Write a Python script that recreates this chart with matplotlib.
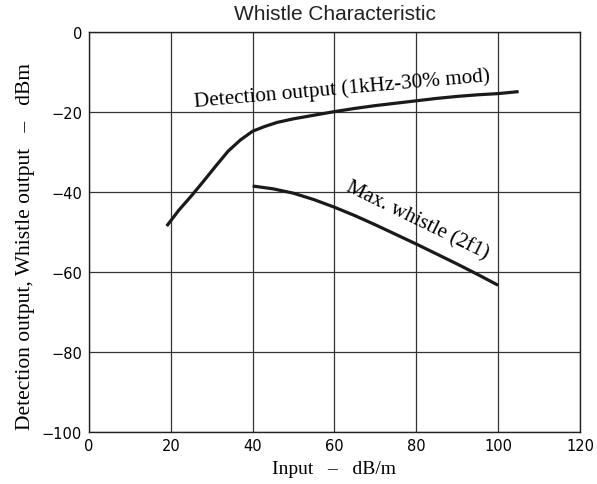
import matplotlib.pyplot as plt

# curves
det_x = [19, 22, 25, 28, 31, 34, 37, 40, 43, 46, 50, 55, 60, 65, 70, 75, 80, 85, 90, 95, 100, 105]
det_y = [-48.5, -44.5, -41, -37.3, -33.5, -29.8, -27, -24.8, -23.6, -22.6, -21.7, -20.8, -19.9, -19.1, -18.4, -17.8, -17.2, -16.6, -16.1, -15.7, -15.4, -14.9]

wh_x = [40, 45, 50, 55, 60, 65, 70, 75, 80, 85, 90, 95, 100]
wh_y = [-38.5, -39.2, -40.3, -41.9, -43.8, -45.9, -48.2, -50.6, -53.0, -55.5, -58.0, -60.6, -63.3]

xticks = [0, 20, 40, 60, 80, 100, 120]
yticks = [0, -20, -40, -60, -80, -100]

fig = plt.figure(figsize=(5.97, 4.85), dpi=100)
ax = fig.add_axes([0.149, 0.107, 0.8225, 0.825])

ax.plot(det_x, det_y, color="#1a1a1a", lw=2.3, solid_capstyle="butt")
ax.plot(wh_x, wh_y, color="#1a1a1a", lw=2.3, solid_capstyle="butt")

ax.set_xlim(0, 120)
ax.set_ylim(-100, 0)
ax.set_xticks(xticks)
ax.set_yticks(yticks)
ax.grid(True, color="#333333", lw=0.9)
ax.tick_params(length=0, labelsize=10.5, pad=4)
ax.tick_params(axis="y", pad=5)
for s in ax.spines.values():
    s.set_color("#222222")
    s.set_linewidth(1.0)

ax.set_title("Whistle Characteristic", fontsize=15, family="Liberation Sans", pad=9,
             color="#222222")
ax.set_xlabel("Input   \u2013   dB/m", fontsize=14, family="Liberation Serif")
ax.set_ylabel("Detection output, Whistle output   \u2013   dBm", fontsize=15.5, family="Liberation Serif")
ax.xaxis.set_label_coords(0.5, -0.07)
ax.yaxis.set_label_coords(-0.11, 0.4675)

ax.text(61.9, -14.0, "Detection output (1kHz-30% mod)", rotation=5, ha="center", va="center",
        fontsize=15.3, family="Liberation Serif", rotation_mode="anchor")
ax.text(80.2, -47.0, "Max. whistle (2f1)", rotation=-26, ha="center", va="center",
        fontsize=15, family="Liberation Serif", rotation_mode="anchor")

fig.savefig("out.png", dpi=100)
